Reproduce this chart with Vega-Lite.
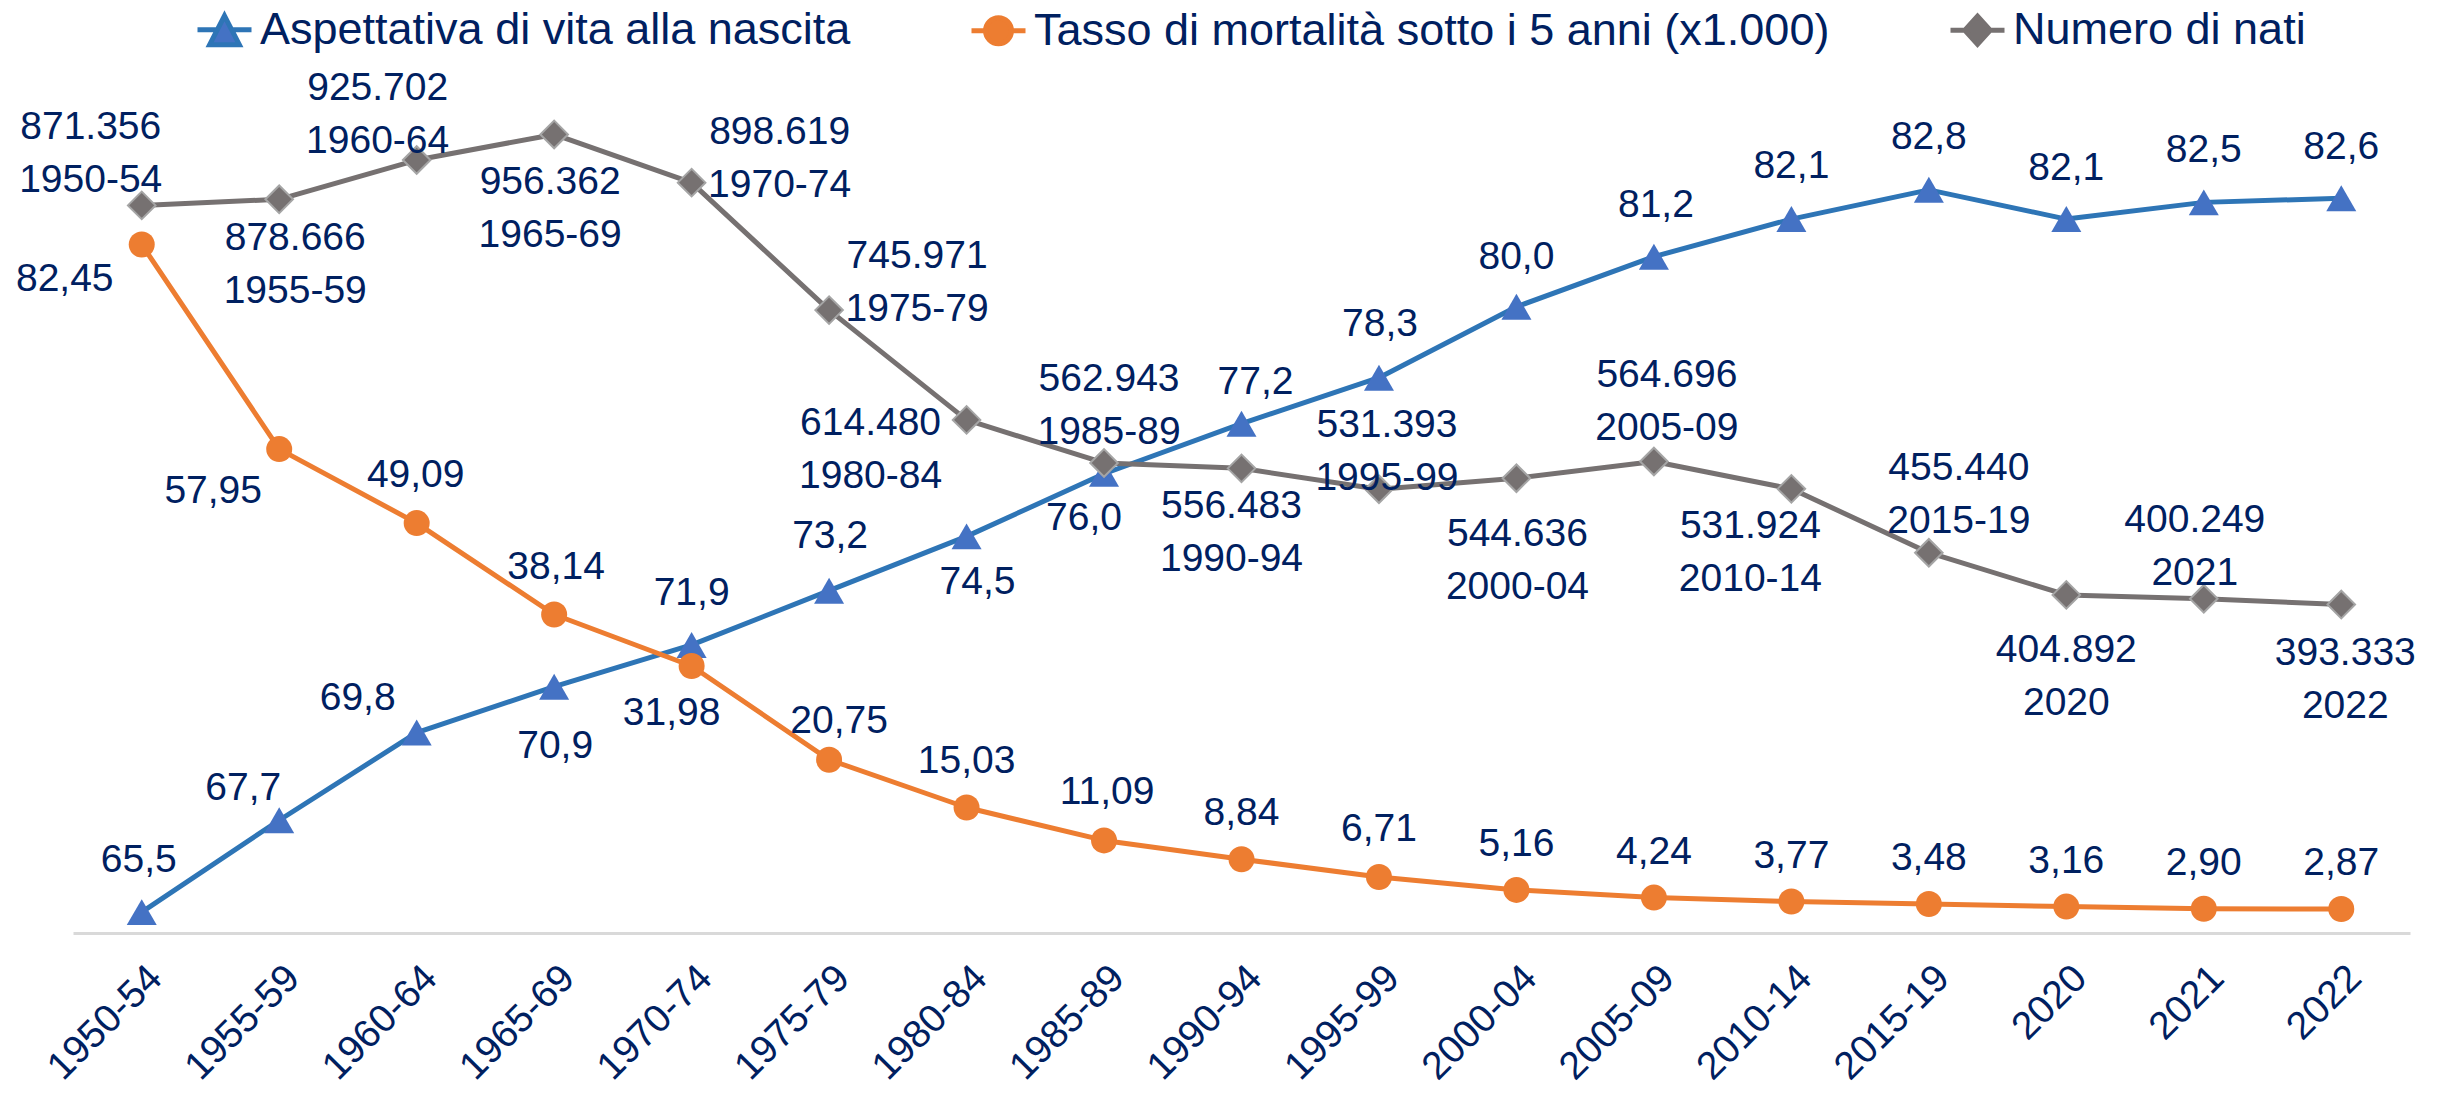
{
  "$schema": "https://vega.github.io/schema/vega-lite/v6.json",
  "width": 2337,
  "height": 835,
  "autosize": {"type": "none"},
  "padding": {"left": 73, "top": 98, "right": 28, "bottom": 162},
  "background": "white",
  "params": [
    {"name": "periodi", "value": ["1950-54","1955-59","1960-64","1965-69","1970-74","1975-79","1980-84","1985-89","1990-94","1995-99","2000-04","2005-09","2010-14","2015-19","2020","2021","2022"]},
    {"name": "bdx", "value": [-3, -36, -59, 1, 0, 1, 11, -20, 14, 1, 0, 2, 0, 0, 0, 0, 0]},
    {"name": "bdy", "value": [-52, -32, -35, 59, -52, -55, 46, 44, -42, -54, -50, -52, -53, -53, -51, -52, -51]},
    {"name": "odx", "value": [-77, -66, -1, 2, -20, 10, 0, 3, 0, 0, 0, 0, 0, 0, 0, 0, 0]},
    {"name": "ody", "value": [34, 42, -48, -48, 47, -39, -46, -48, -46, -48, -46, -46, -46, -46, -46, -46, -46]},
    {"name": "gdx", "value": [-51, 16, -39, -4, 88, 88, -96, 5, -10, 8, 1, 13, -41, 30, 0, -9, 4]},
    {"name": "gdy", "value": [-78, 39, -72, 48, -51, -54, 3, -84, 38, -64, 56, -86, 37, -85, 55, -79, 48]}
  ],
  "data": {"values": [
    {"periodo": "1950-54", "vita": 65.5, "mortalita": 82.45, "nati": 871356},
    {"periodo": "1955-59", "vita": 67.7, "mortalita": 57.95, "nati": 878666},
    {"periodo": "1960-64", "vita": 69.8, "mortalita": 49.09, "nati": 925702},
    {"periodo": "1965-69", "vita": 70.9, "mortalita": 38.14, "nati": 956362},
    {"periodo": "1970-74", "vita": 71.9, "mortalita": 31.98, "nati": 898619},
    {"periodo": "1975-79", "vita": 73.2, "mortalita": 20.75, "nati": 745971},
    {"periodo": "1980-84", "vita": 74.5, "mortalita": 15.03, "nati": 614480},
    {"periodo": "1985-89", "vita": 76.0, "mortalita": 11.09, "nati": 562943},
    {"periodo": "1990-94", "vita": 77.2, "mortalita": 8.84, "nati": 556483},
    {"periodo": "1995-99", "vita": 78.3, "mortalita": 6.71, "nati": 531393},
    {"periodo": "2000-04", "vita": 80.0, "mortalita": 5.16, "nati": 544636},
    {"periodo": "2005-09", "vita": 81.2, "mortalita": 4.24, "nati": 564696},
    {"periodo": "2010-14", "vita": 82.1, "mortalita": 3.77, "nati": 531924},
    {"periodo": "2015-19", "vita": 82.8, "mortalita": 3.48, "nati": 455440},
    {"periodo": "2020", "vita": 82.1, "mortalita": 3.16, "nati": 404892},
    {"periodo": "2021", "vita": 82.5, "mortalita": 2.90, "nati": 400249},
    {"periodo": "2022", "vita": 82.6, "mortalita": 2.87, "nati": 393333}
  ]},
  "encoding": {
    "x": {
      "field": "periodo", "type": "nominal", "sort": null,
      "scale": {"type": "point", "padding": 0.5},
      "axis": {"title": null, "labelAngle": -45, "labelFontSize": 39, "labelColor": "#002060", "labelFont": "Liberation Sans", "ticks": false, "domainColor": "#D9D9D9", "domainWidth": 3, "grid": false, "labelPadding": 25, "labelLimit": 0}
    }
  },
  "layer": [
    {
      "mark": {"type": "line", "strokeWidth": 5, "strokeJoin": "round"},
      "encoding": {
        "y": {"field": "vita", "type": "quantitative", "scale": {"domain": [65, 85], "zero": false, "nice": false}, "axis": null},
        "color": {
          "datum": "Aspettativa di vita alla nascita", "type": "nominal",
          "scale": {"domain": ["Aspettativa di vita alla nascita", "Tasso di mortalità sotto i 5 anni (x1.000)", "Numero di nati"], "range": ["#2E75B6", "#ED7D31", "#767171"]},
          "legend": {
            "orient": "none", "legendX": 122, "legendY": -98, "direction": "horizontal", "title": null, "padding": 0,
            "labelFont": "Liberation Sans", "labelFontSize": 45, "labelColor": "#002060", "labelLimit": 0, "labelOffset": 6,
            "symbolSize": 2916, "symbolStrokeWidth": 5, "columnPadding": 110,
            "encode": {
              "symbols": {
                "update": {
                  "shape": {"signal": "datum.value == 'Aspettativa di vita alla nascita' ? 'M-1,0H-0.3M0.3,0H1M0,-0.52L0.55,0.55L-0.55,0.55Z' : datum.value == 'Numero di nati' ? 'M-1,0H-0.4M0.4,0H1M0,-0.52L0.47,0L0,0.52L-0.47,0Z' : 'M-1,0H-0.4M0.4,0H1M-0.48,0A0.48,0.48 0 1,0 0.48,0A0.48,0.48 0 1,0 -0.48,0Z'"},
                  "fill": {"signal": "datum.value == 'Aspettativa di vita alla nascita' ? '#4472C4' : datum.value == 'Numero di nati' ? '#767171' : '#ED7D31'"},
                  "stroke": {"signal": "datum.value == 'Aspettativa di vita alla nascita' ? '#2E75B6' : datum.value == 'Numero di nati' ? '#767171' : '#ED7D31'"},
                  "strokeWidth": {"value": 5},
                  "opacity": {"value": 1}
                }
              }
            }
          }
        }
      }
    },
    {
      "mark": {"type": "point", "shape": "triangle-up", "filled": true, "size": 900, "color": "#4472C4", "opacity": 1},
      "encoding": {
        "y": {"field": "vita", "type": "quantitative", "scale": {"domain": [65, 85], "zero": false, "nice": false}, "axis": null}
      }
    },
    {
      "mark": {"type": "line", "strokeWidth": 5, "strokeJoin": "round"},
      "encoding": {
        "y": {"field": "mortalita", "type": "quantitative", "scale": {"domain": [0, 100], "nice": false}, "axis": null},
        "color": {"datum": "Tasso di mortalità sotto i 5 anni (x1.000)", "type": "nominal"}
      }
    },
    {
      "mark": {"type": "point", "shape": "circle", "filled": true, "size": 676, "color": "#ED7D31", "opacity": 1},
      "encoding": {
        "y": {"field": "mortalita", "type": "quantitative", "scale": {"domain": [0, 100], "nice": false}, "axis": null}
      }
    },
    {
      "mark": {"type": "line", "strokeWidth": 5, "strokeJoin": "round"},
      "encoding": {
        "y": {"field": "nati", "type": "quantitative", "scale": {"domain": [0, 1000000], "nice": false}, "axis": null},
        "color": {"datum": "Numero di nati", "type": "nominal"}
      }
    },
    {
      "mark": {"type": "point", "shape": "diamond", "filled": true, "size": 760, "color": "#767171", "stroke": "#A5A5A5", "strokeWidth": 2, "opacity": 1},
      "encoding": {
        "y": {"field": "nati", "type": "quantitative", "scale": {"domain": [0, 1000000], "nice": false}, "axis": null}
      }
    },
    {
      "mark": {"type": "text", "font": "Liberation Sans", "fontSize": 39, "color": "#002060", "baseline": "middle",
        "dx": {"expr": "bdx[indexof(periodi, datum.periodo)]"}, "dy": {"expr": "bdy[indexof(periodi, datum.periodo)]"}},
      "encoding": {
        "y": {"field": "vita", "type": "quantitative", "scale": {"domain": [65, 85], "zero": false, "nice": false}, "axis": null},
        "text": {"field": "vita", "type": "quantitative", "format": ".1f"}
      }
    },
    {
      "mark": {"type": "text", "font": "Liberation Sans", "fontSize": 39, "color": "#002060", "baseline": "middle",
        "dx": {"expr": "odx[indexof(periodi, datum.periodo)]"}, "dy": {"expr": "ody[indexof(periodi, datum.periodo)]"}},
      "encoding": {
        "y": {"field": "mortalita", "type": "quantitative", "scale": {"domain": [0, 100], "nice": false}, "axis": null},
        "text": {"field": "mortalita", "type": "quantitative", "format": ".2f"}
      }
    },
    {
      "mark": {"type": "text", "font": "Liberation Sans", "fontSize": 39, "color": "#002060", "baseline": "middle",
        "dx": {"expr": "gdx[indexof(periodi, datum.periodo)]"}, "dy": {"expr": "gdy[indexof(periodi, datum.periodo)]"}},
      "encoding": {
        "y": {"field": "nati", "type": "quantitative", "scale": {"domain": [0, 1000000], "nice": false}, "axis": null},
        "text": {"field": "nati", "type": "quantitative", "format": ",d"}
      }
    },
    {
      "mark": {"type": "text", "font": "Liberation Sans", "fontSize": 39, "color": "#002060", "baseline": "middle",
        "dx": {"expr": "gdx[indexof(periodi, datum.periodo)]"}, "dy": {"expr": "gdy[indexof(periodi, datum.periodo)] + 53"}},
      "encoding": {
        "y": {"field": "nati", "type": "quantitative", "scale": {"domain": [0, 1000000], "nice": false}, "axis": null},
        "text": {"field": "periodo", "type": "nominal"}
      }
    }
  ],
  "resolve": {"scale": {"y": "independent"}},
  "config": {
    "view": {"stroke": null},
    "font": "Liberation Sans",
    "locale": {"number": {"decimal": ",", "thousands": ".", "grouping": [3], "currency": ["€", ""]}}
  }
}
